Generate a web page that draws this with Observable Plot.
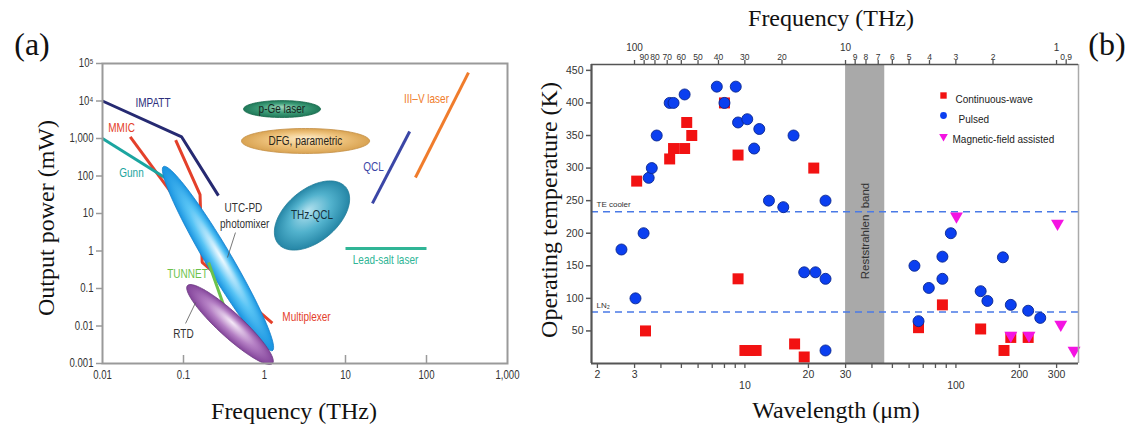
<!DOCTYPE html>
<html><head><meta charset="utf-8">
<script src="https://cdn.jsdelivr.net/npm/d3@7"></script>
<script src="https://cdn.jsdelivr.net/npm/@observablehq/plot@0.6"></script>
<style>
body{margin:0;background:#fff;}
#wrap{position:relative;width:1144px;height:427px;overflow:hidden;background:#fff;}
#wrap svg{position:absolute;top:0;overflow:visible;}
.t{position:absolute;font-family:"Liberation Serif","DejaVu Serif",serif;color:#111;white-space:nowrap;line-height:1;}
.rot{transform:translate(-50%,-50%) rotate(-90deg);}
.ctr{transform:translate(-50%,-50%);}
</style></head><body><div id="wrap"></div>
<script>
// ---------------- Panel (a) data ----------------
const xTicksA = [0.01, 0.1, 1, 10, 100, 1000];
const xTickLabelsA = ["0.01", "0.1", "1", "10", "100", "1,000"];
const yTicksA = [0.001, 0.01, 0.1, 1, 10, 100, 1000, 1e4, 1e5];
const yTickLabelsA = ["0.001", "0.01", "0.1", "1", "10", "100", "1,000", "10⁴", "10⁵"];

const impattFreq = [0.01, 0.095, 0.27];
const impattPower = [10000, 1100, 30];
const mmicFreq = [0.022, 0.08];
const mmicPower = [1100, 25];
const mmic2Freq = [0.08, 0.16, 0.17, 1.25];
const mmic2Power = [900, 32, 0.5, 0.012];
const gunnFreq = [0.01, 0.068];
const gunnPower = [1000, 75];
const tunnetFreq = [0.204, 0.32];
const tunnetPower = [0.49, 0.031];
const qclFreq = [21.5, 62];
const qclPower = [18.6, 1540];
const iiivFreq = [73, 330];
const iiivPower = [91, 57000];
const leadFreq = [10, 100];
const leadPower = [1.17, 1.17];

// ellipses: major-axis end points (THz, mW) and minor/major ratio
const ellipseNames = ["p-Ge laser", "DFG, parametric", "THz-QCL", "UTC-PD", "RTD"];
const ellipseFreq1 = [0.55, 0.52, 1.48, 0.0566, 0.112];
const ellipsePower1 = [6100, 858, 1.556, 179, 0.12];
const ellipseFreq2 = [4.91, 19.8, 10.06, 1.256, 1.256];
const ellipsePower2 = [6100, 858, 50.3, 0.00222, 0.001];
const ellipseRatio = [0.22, 0.195, 0.59, 0.12, 0.21];

const labelText = ["IMPATT", "MMIC", "Gunn", "UTC-PD", "photomixer", "THz-QCL", "p-Ge laser", "DFG, parametric", "QCL", "III–V laser", "Lead-salt laser", "TUNNET", "Multiplexer", "RTD"];
const labelFreq = [0.042, 0.0172, 0.0228, 0.55, 0.57, 3.86, 1.64, 3.2, 22.2, 100, 31.2, 0.112, 3.3, 0.1];
const labelPower = [8580, 1960, 117, 13.6, 5.1, 9, 6100, 858, 179, 11660, 0.56, 0.25, 0.0179, 0.0063];

const leaderFreq1 = [0.438, 0.141];
const leaderPower1 = [3.1, 0.042];
const leaderFreq2 = [0.349, 0.106];
const leaderPower2 = [0.67, 0.0117];

// ---------------- Panel (b) data ----------------
const cwWavelength = [3.07, 4.40, 4.59, 5.18, 5.30, 5.60, 8.0, 9.28, 21.2, 3.38, 9.28, 10.0, 10.6, 11.3, 17.2, 19.1, 66.5, 86.3, 131, 169, 182, 220];
const cwTemp = [280, 314, 330, 330, 370, 350, 400, 320, 300, 50, 130, 20, 20, 20, 30, 10, 55, 90, 53, 20, 40, 40];
const pulsedWavelength = [3.5, 3.62, 3.82, 4.40, 4.59, 5.18, 7.36, 8.0, 9.05, 9.28, 10.26, 11.06, 11.7, 13.0, 15.2, 17.0, 24.1, 2.6, 3.31, 3.03, 19.1, 21.6, 24.1, 24.1, 63.6, 74.4, 86.3, 86.3, 94.6, 66.5, 131, 141, 167, 182, 220, 251];
const pulsedTemp = [285, 300, 350, 400, 400, 413, 425, 400, 425, 370, 375, 330, 360, 250, 240, 350, 250, 175, 200, 100, 140, 140, 130, 20, 150, 116, 164, 130, 200, 65, 111, 96, 163, 90, 81, 70];
const magWavelength = [100.6, 303, 314, 363, 182, 222];
const magTemp = [226, 215, 60, 20, 43, 43];

const yTicksB = [50, 100, 150, 200, 250, 300, 350, 400, 450];
const bottomMinor = [2, 3, 4, 5, 6, 7, 8, 9, 20, 30, 40, 50, 60, 70, 80, 90, 200, 300];
const bottomMajor = [10, 100];
const topMinorFreq = [90, 80, 70, 60, 50, 40, 30, 20, 9, 8, 7, 6, 5, 4, 3, 2, 0.9];
const topMajorFreq = [100, 10, 1];
const reststrahlenBand = [30, 46];
const coolerTemps = [233, 79];
const coolerLabels = ["TE cooler", "LN₂"];
const legendLabels = ["Continuous-wave", "Pulsed", "Magnetic-field assisted"];

// ---------------- helpers ----------------
const wrap = document.getElementById("wrap");
const sans = '"Liberation Sans",Arial,Helvetica,sans-serif';
const rows = (xs, ys) => xs.map((x, i) => ({x, y: ys[i]}));

// ---------------- Panel (a) ----------------
const WA = 540, HA = 427, mLA = 102, mRA = 33, mTA = 63, mBA = 64;
const kx = (WA - mLA - mRA) / 5, ky = (HA - mTA - mBA) / 8;

function ellipseGeom(i) {
  const X1 = Math.log10(ellipseFreq1[i]) * kx, Y1 = Math.log10(ellipsePower1[i]) * ky;
  const X2 = Math.log10(ellipseFreq2[i]) * kx, Y2 = Math.log10(ellipsePower2[i]) * ky;
  const cx = (X1 + X2) / 2, cy = (Y1 + Y2) / 2, ax = (X2 - X1) / 2, ay = (Y2 - Y1) / 2;
  const r = ellipseRatio[i], bx = -ay * r, by = ax * r;
  const pts = d3.range(97).map(k => {
    const t = 2 * Math.PI * k / 96;
    const X = cx + Math.cos(t) * ax + Math.sin(t) * bx, Y = cy + Math.cos(t) * ay + Math.sin(t) * by;
    return {x: 10 ** (X / kx), y: 10 ** (Y / ky)};
  });
  return {pts, cf: 10 ** (cx / kx), cp: 10 ** (cy / ky), a: Math.hypot(ax, ay), b: Math.hypot(ax, ay) * r, ang: Math.atan2(-ay, ax) * 180 / Math.PI};
}
const ellStops = [
  ["#9fd8bc", "#3f9e7a", "#1f7858"],
  ["#fdebc8", "#efc47e", "#d9a352"],
  ["#b4e2ef", "#52b2cd", "#2586a6"],
  ["#f2fbff", "#58c4f5", "#1893e0"],
  ["#f6eaf8", "#b47fc4", "#83449a"]
];
const ellStroke = ["#1a6b4e", "#c48f45", "#237c98", "#1680cc", "#6c3a82"];
const geoms = ellipseNames.map((_, i) => ellipseGeom(i));
const ellMark = i => Plot.line(geoms[i].pts, {x: "x", y: "y", fill: `url(#gA${i})`, stroke: ellStroke[i], strokeWidth: 0.8, curve: "linear"});

const lineMark = (f, p, color) => Plot.line(rows(f, p), {x: "x", y: "y", stroke: color, strokeWidth: 3, strokeLinecap: "butt", strokeLinejoin: "miter"});

const labelColors = ["#2c2f7c", "#e4402a", "#1ba5a0", "#333", "#333", "#15303c", "#17261f", "#2a2418", "#3b46a6", "#f07c2c", "#30b596", "#6cc24c", "#e4402a", "#333"];
const labelRows = labelText.map((t, i) => ({t, x: labelFreq[i], y: labelPower[i], c: labelColors[i]}));

const figA = Plot.plot({
  width: WA, height: HA, marginLeft: mLA, marginRight: mRA, marginTop: mTA, marginBottom: mBA,
  x: {type: "log", domain: [0.01, 1000]},
  y: {type: "log", domain: [0.001, 1e5]},
  color: {type: "identity"},
  style: {background: "transparent", fontFamily: sans, fontSize: "12px", color: "#333", overflow: "visible"},
  marks: [
    Plot.ruleX(xTicksA.slice(1, -1), {stroke: "#9a9a9a", strokeWidth: 1.5, insetTop: HA - mTA - mBA - 8}),
    Plot.axisY(yTicksA, {tickFormat: d => yTickLabelsA[yTicksA.indexOf(d)], tickSize: 6, tickPadding: 3, stroke: "#9a9a9a", strokeWidth: 1.5, fill: "#333", fontSize: 12, label: null}),
    Plot.axisX(xTicksA, {tickFormat: d => xTickLabelsA[xTicksA.indexOf(d)], tickSize: 0, tickPadding: 7, fill: "#333", fontSize: 12, label: null}),
    lineMark(impattFreq, impattPower, "#262a72"),
    lineMark(mmicFreq, mmicPower, "#e4402a"),
    lineMark(mmic2Freq, mmic2Power, "#e4402a"),
    lineMark(gunnFreq, gunnPower, "#1ba5a0"),
    lineMark(qclFreq, qclPower, "#3b46a6"),
    lineMark(iiivFreq, iiivPower, "#f07c2c"),
    lineMark(leadFreq, leadPower, "#30b596"),
    ellMark(0), ellMark(1), ellMark(2), ellMark(3),
    lineMark(tunnetFreq, tunnetPower, "#6cc24c"),
    ellMark(4),
    Plot.link(rows(leaderFreq1, leaderPower1).map((d, i) => ({...d, x2: leaderFreq2[i], y2: leaderPower2[i]})), {x1: "x", y1: "y", x2: "x2", y2: "y2", stroke: "#555", strokeWidth: 0.8}),
    Plot.text(labelRows, {x: "x", y: "y", text: "t", fill: "c", fontSize: 12.5}),
    Plot.frame({stroke: "#9a9a9a", strokeWidth: 2})
  ]
});
figA.style.left = "0px";
wrap.appendChild(figA);
{
  const xs = figA.scale("x"), ys = figA.scale("y");
  const defs = d3.select(figA).insert("defs", ":first-child");
  geoms.forEach((g, i) => {
    const gr = defs.append("radialGradient").attr("id", `gA${i}`).attr("gradientUnits", "userSpaceOnUse")
      .attr("cx", 0).attr("cy", 0).attr("r", 1).attr("fx", 0).attr("fy", -0.25)
      .attr("gradientTransform", `translate(${xs.apply(g.cf)},${ys.apply(g.cp)}) rotate(${g.ang}) scale(${g.a},${g.b})`);
    gr.append("stop").attr("offset", 0).attr("stop-color", ellStops[i][0]);
    gr.append("stop").attr("offset", 0.55).attr("stop-color", ellStops[i][1]);
    gr.append("stop").attr("offset", 1).attr("stop-color", ellStops[i][2]);
  });
  // condensed look for the sans labels of panel (a)
  d3.select(figA).selectAll("text").each(function () {
    const t = this.getAttribute("transform") || "";
    this.setAttribute("transform", (t + " scale(0.8,1)").trim());
  });
}

// ---------------- Panel (b) ----------------
const WB = 604, HB = 427, mLB = 51, mRB = 66, mTB = 64, mBB = 64;
const xDomB = [1.875, 381], yDomB = [0, 459];
const C = 299.792458;
const topMinorPos = topMinorFreq.map(f => C / f);
const topMajorPos = topMajorFreq.map(f => C / f);
const triDown = {draw(ctx, size) {
  const s = Math.sqrt(size * 4 / Math.sqrt(3)), h = s * Math.sqrt(3) / 2;
  ctx.moveTo(-s / 2, -h / 3); ctx.lineTo(s / 2, -h / 3); ctx.lineTo(0, 2 * h / 3); ctx.closePath();
}};
const legX = 352;
const figB = Plot.plot({
  width: WB, height: HB, marginLeft: mLB, marginRight: mRB, marginTop: mTB, marginBottom: mBB,
  x: {type: "log", domain: xDomB},
  y: {domain: yDomB},
  style: {background: "transparent", fontFamily: sans, fontSize: "10.5px", color: "#333", overflow: "visible"},
  marks: [
    Plot.rect([reststrahlenBand], {x1: d => d[0], x2: d => d[1], y1: yDomB[0], y2: yDomB[1], fill: "#a9a9a9"}),
    Plot.text(["Reststrahlen\u00a0\u00a0band"], {x: Math.sqrt(reststrahlenBand[0] * reststrahlenBand[1]), frameAnchor: "middle", dy: 17, rotate: -90, fontSize: 11.5, fill: "#333"}),
    Plot.ruleY(coolerTemps, {stroke: "#4a7ae6", strokeWidth: 1.6, strokeDasharray: "7,5"}),
    Plot.text(coolerLabels, {y: (d, i) => coolerTemps[i], frameAnchor: "left", dx: 5, dy: -7, textAnchor: "start", fontSize: 8, fill: "#333"}),
    Plot.dot(rows(cwWavelength, cwTemp), {x: "x", y: "y", symbol: "square", r: 6.2, fill: "#f21212"}),
    Plot.dot(rows(pulsedWavelength, pulsedTemp), {x: "x", y: "y", symbol: "circle", r: 5.5, fill: "#0b3ff0", stroke: "#0a2790", strokeWidth: 0.9}),
    Plot.dot(rows(magWavelength, magTemp), {x: "x", y: "y", symbol: triDown, r: 4.8, fill: "#f414e2"}),
    // legend
    Plot.dot([0], {frameAnchor: "top-left", dx: legX, dy: 31, symbol: "square", r: 3.6, fill: "#f21212"}),
    Plot.dot([0], {frameAnchor: "top-left", dx: legX, dy: 51, symbol: "circle", r: 3.4, fill: "#0b3ff0"}),
    Plot.dot([0], {frameAnchor: "top-left", dx: legX, dy: 72, symbol: triDown, r: 3.2, fill: "#f414e2"}),
    Plot.text([legendLabels[0]], {frameAnchor: "top-left", dx: legX + 12, dy: 31, textAnchor: "start", fontSize: 10, fill: "#222"}),
    Plot.text([legendLabels[1]], {frameAnchor: "top-left", dx: legX + 15, dy: 51, textAnchor: "start", fontSize: 10, fill: "#222"}),
    Plot.text([legendLabels[2]], {frameAnchor: "top-left", dx: legX + 9, dy: 71, textAnchor: "start", fontSize: 10, fill: "#222"}),
    // axes
    Plot.axisY(yTicksB, {tickSize: 5, tickPadding: 3, fontSize: 10.5, fill: "#333", stroke: "#555", strokeWidth: 1.5, label: null}),
    Plot.axisX(bottomMinor, {tickSize: 5, tickPadding: 2, fontSize: 10.5, fill: "#333", stroke: "#555", strokeWidth: 1.3, tickFormat: d => String(d), label: null}),
    Plot.axisX(bottomMajor, {tickSize: 5, tickPadding: 13, fontSize: 10.5, fill: "#333", stroke: "#555", strokeWidth: 1.3, tickFormat: d => String(d), label: null}),
    Plot.axisX(topMinorPos.concat(topMajorPos), {anchor: "top", tickSize: 5, stroke: "#555", strokeWidth: 1.3, tickFormat: () => "", label: null}),
    Plot.text(topMinorFreq, {x: f => C / f, frameAnchor: "top", dy: -10.5, text: f => String(f), fontSize: 8.5, fill: "#333"}),
    Plot.text(topMajorFreq, {x: f => C / f, frameAnchor: "top", dy: -21, text: f => String(f), fontSize: 10, fill: "#333"}),
    Plot.ruleX([xDomB[1]], {stroke: "#aaa", strokeWidth: 1.5}),
    Plot.ruleY([yDomB[1]], {stroke: "#555", strokeWidth: 1.5}),
    Plot.ruleX([xDomB[0]], {stroke: "#555", strokeWidth: 2.2}),
    Plot.ruleY([yDomB[0]], {stroke: "#555", strokeWidth: 2.2})
  ]
});
figB.style.left = "540px";
wrap.appendChild(figB);

// ---------------- overlay titles ----------------
function addText(txt, x, y, size, cls) {
  const d = document.createElement("div");
  d.className = "t " + cls;
  d.textContent = txt;
  d.style.left = x + "px"; d.style.top = y + "px"; d.style.fontSize = size + "px";
  wrap.appendChild(d);
}
addText("(a)", 32, 44, 32, "ctr");
addText("(b)", 1107, 44, 32, "ctr");
addText("Output power (mW)", 46, 218, 24, "rot");
addText("Frequency (THz)", 294, 411, 24, "ctr");
addText("Operating temperature (K)", 549, 210, 24, "rot");
addText("Frequency (THz)", 831, 18, 24, "ctr");
addText("Wavelength (μm)", 836, 410, 24, "ctr");
</script></body></html>
